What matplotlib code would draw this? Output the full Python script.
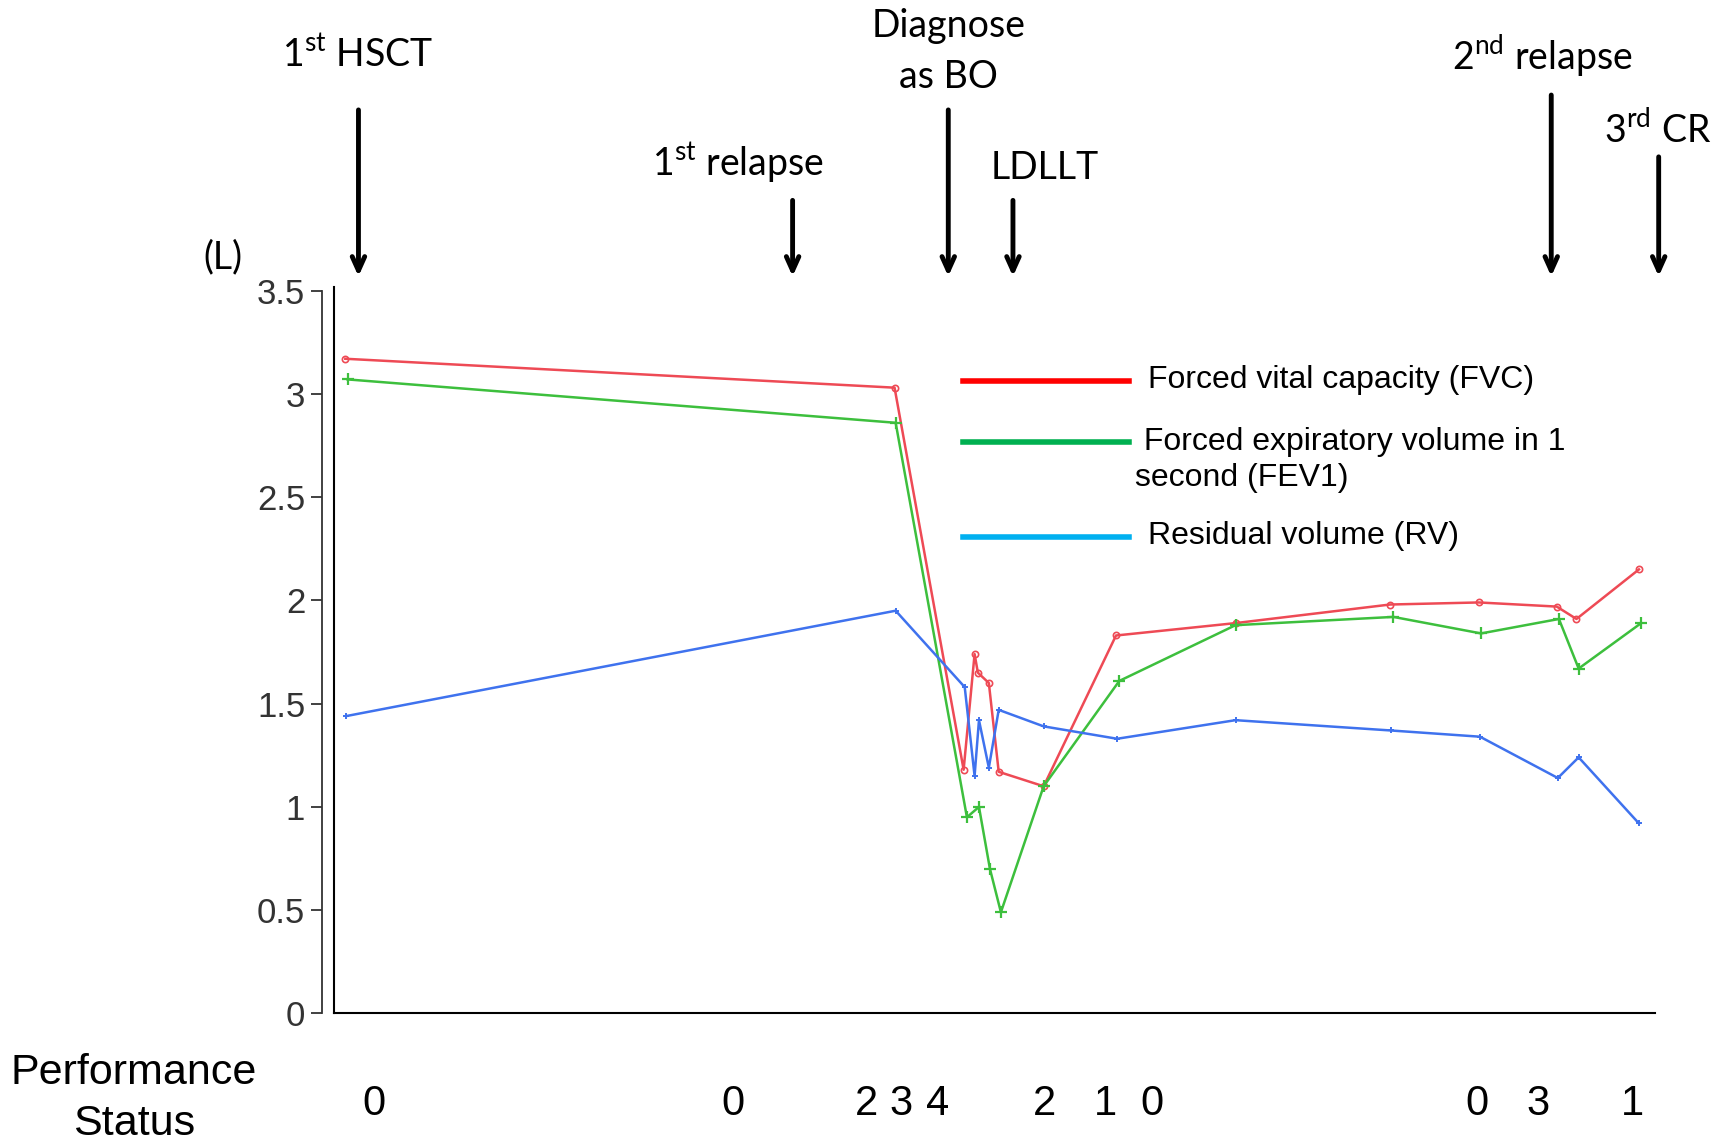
import matplotlib
matplotlib.use('Agg')
import matplotlib.pyplot as plt
import matplotlib.transforms as mtransforms

# time axis (approx. months from 1st HSCT)
fvc_t = [1.0, 51.1, 57.4, 58.4, 58.7, 59.7, 60.6, 64.7, 71.3, 82.2, 96.3, 104.4, 111.5, 113.3, 119.0]
fvc = [3.17, 3.03, 1.18, 1.74, 1.65, 1.60, 1.17, 1.10, 1.83, 1.89, 1.98, 1.99, 1.97, 1.91, 2.15]

fev1_t = [1.2, 51.2, 57.7, 58.8, 59.8, 60.8, 64.7, 71.6, 82.2, 96.6, 104.6, 111.7, 113.5, 119.2]
fev1 = [3.07, 2.86, 0.95, 1.00, 0.70, 0.49, 1.10, 1.61, 1.88, 1.92, 1.84, 1.91, 1.67, 1.89]

rv_t = [1.1, 51.2, 57.5, 58.4, 58.8, 59.7, 60.6, 64.7, 71.4, 82.2, 96.4, 104.5, 111.6, 113.5, 119.0]
rv = [1.44, 1.95, 1.58, 1.15, 1.42, 1.19, 1.47, 1.39, 1.33, 1.42, 1.37, 1.34, 1.14, 1.24, 0.92]

legend_labels = ['Forced vital capacity (FVC)', ' Forced expiratory volume in 1\nsecond (FEV1)', 'Residual volume (RV)']

event_t = [2.2, 41.8, 56.0, 61.9, 111.0, 120.8]
event_labels = [r'1$^{\mathregular{st}}$ HSCT', r'1$^{\mathregular{st}}$ relapse', 'Diagnose\nas BO', 'LDLLT',
                r'2$^{\mathregular{nd}}$ relapse', r'3$^{\mathregular{rd}}$ CR']

ps_t = [3.6, 36.4, 48.5, 51.7, 55.0, 64.8, 70.3, 74.6, 104.2, 109.8, 118.4]
ps = [0, 0, 2, 3, 4, 2, 1, 0, 0, 3, 1]

plt.rcParams['font.family'] = ['Liberation Sans', 'DejaVu Sans']

fig = plt.figure(figsize=(17.19, 11.45), dpi=100)
ax = fig.add_axes([0.1945, 0.1149, 0.7685, 0.6313])

ax.plot(fvc_t, fvc, color='#ee4a55', lw=1.8, marker='o', markersize=4.5, fillstyle='none', mew=1.2)
ax.plot(fev1_t, fev1, color='#3dbf3d', lw=1.8, marker='+', markersize=9, mew=1.6)
ax.plot(rv_t, rv, color='#3f72ee', lw=1.8, marker='+', markersize=5, mew=1.4)

ax.set_xlim(0, 120.5)
ax.set_ylim(0, 3.5)
ax.set_yticks([0, 0.5, 1, 1.5, 2, 2.5, 3, 3.5])
ax.set_yticklabels(['0', '0.5', '1', '1.5', '2', '2.5', '3', '3.5'])
ax.set_xticks([])
for s in ['top', 'right']:
    ax.spines[s].set_visible(False)
ax.spines['left'].set_position(('outward', 9))
ax.spines['left'].set_color('#333333')
ax.spines['left'].set_linewidth(1.3)
ax.spines['bottom'].set_linewidth(1.5)
ax.axvline(0, ymin=0, ymax=1.005, color='black', lw=1.5, clip_on=False)
ax.tick_params(axis='y', direction='out', length=8, width=1.3, color='#333333',
               labelsize=25, labelcolor='#333333', pad=4)

# legend drawn by hand
leg_colors = ['#ff0000', '#00b050', '#00b0f0']
leg_y = [0.667, 0.614, 0.531]
for c, yy in zip(leg_colors, leg_y):
    fig.add_artist(plt.Line2D([0.560, 0.657], [yy, yy], color=c, lw=4))
fig.text(0.668, 0.668, legend_labels[0], fontsize=23, va='center')
fig.text(0.660, 0.598, legend_labels[1], fontsize=23, va='center', linespacing=1.25)
fig.text(0.668, 0.532, legend_labels[2], fontsize=23, va='center')

# event arrows and labels
trans = mtransforms.blended_transform_factory(ax.transData, fig.transFigure)
tails = [0.904, 0.825, 0.904, 0.825, 0.917, 0.863]
label_x = [2.1, 36.8, 56.0, 64.8, 110.2, 120.7]
label_y = [0.952, 0.858, 0.955, 0.853, 0.952, 0.887]
for t, tail, lbl, lx, ly in zip(event_t, tails, event_labels, label_x, label_y):
    ax.annotate('', xy=(t, 0.7586), xytext=(t, tail), xycoords=trans, textcoords=trans,
                arrowprops=dict(arrowstyle='->,head_length=1.0,head_width=0.45', lw=3.5, color='black',
                                shrinkA=0, shrinkB=0), annotation_clip=False)
    fig.text(lx, ly, lbl, transform=trans, ha='center', va='center', fontsize=27,
             family=['Lato', 'DejaVu Sans'], linespacing=1.5)

fig.text(0.1295, 0.775, '(L)', fontsize=27, family=['Lato', 'DejaVu Sans'], ha='center', va='center')

# performance status row
fig.text(0.078, 0.063, 'Performance', fontsize=31, ha='center', va='center')
fig.text(0.078, 0.018, 'Status', fontsize=31, ha='center', va='center')
for t, p in zip(ps_t, ps):
    fig.text(t, 0.0354, str(p), transform=trans, fontsize=30, ha='center', va='center')

fig.savefig('out.png', dpi=100)
